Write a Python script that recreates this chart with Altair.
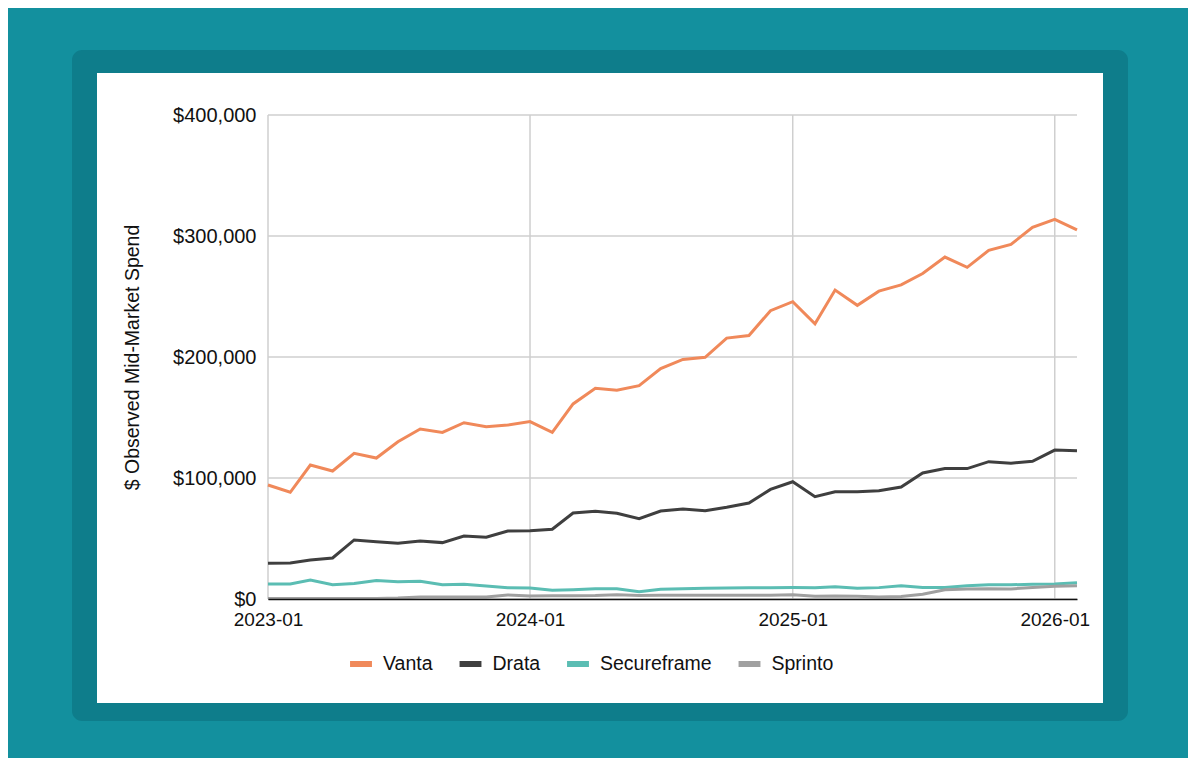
import altair as alt
import pandas as pd

# ---- data (values in $ thousands) ----
months = [f"{y}-{m:02d}-01T00:00:00" for y in (2023, 2024, 2025, 2026) for m in range(1, 13)][:38]
series = ["Vanta", "Drata", "Secureframe", "Sprinto"]
colors = ["#F0895A", "#3F3F3F", "#5BBDB3", "#A0A0A0"]

vanta = [94.2, 88.2, 110.7, 105.8, 120.4, 116.5, 130.0, 140.5, 137.7, 145.7,
         142.4, 143.8, 146.6, 137.7, 161.2, 174.1, 172.5, 176.3, 190.4, 198.0,
         199.7, 215.6, 217.8, 238.3, 245.7, 227.4, 255.3, 242.7, 254.4, 259.6,
         269.0, 282.6, 274.1, 288.1, 293.0, 307.2, 313.8, 305.0]
drata = [29.5, 29.8, 32.2, 33.9, 48.8, 47.4, 46.0, 47.9, 46.6, 52.0,
         51.0, 56.2, 56.5, 57.6, 71.1, 72.5, 70.8, 66.4, 72.7, 74.4,
         73.0, 75.8, 79.3, 90.6, 96.9, 84.5, 88.6, 88.6, 89.5, 92.5,
         104.2, 107.8, 107.8, 113.5, 112.2, 113.8, 123.1, 122.6]
secureframe = [12.4, 12.4, 15.7, 11.8, 12.9, 15.2, 14.3, 14.6, 11.8, 12.1,
               10.7, 9.4, 9.1, 7.2, 7.7, 8.5, 8.5, 6.1, 8.0, 8.5,
               8.8, 9.1, 9.4, 9.4, 9.6, 9.4, 10.2, 8.8, 9.4, 11.0,
               9.6, 9.6, 11.0, 11.8, 11.8, 12.1, 12.4, 13.5]
sprinto = [0.5, 0.5, 0.5, 0.5, 0.5, 0.5, 0.8, 1.6, 1.6, 1.6,
           1.7, 3.3, 2.5, 2.7, 2.7, 2.8, 3.5, 2.8, 3.0, 3.2,
           3.0, 3.0, 3.0, 3.1, 3.6, 2.2, 2.5, 2.2, 1.6, 2.0,
           3.9, 7.7, 8.3, 8.5, 8.3, 9.6, 10.5, 11.0]

y_ticks = [0, 100000, 200000, 300000, 400000]
x_years = [2023, 2024, 2025, 2026]
x_ticks = [f"{y}-01-01T00:00:00" for y in x_years]

rows = []
for name, vals in zip(series, [vanta, drata, secureframe, sprinto]):
    for d, v in zip(months, vals):
        rows.append({"date": d, "company": name, "value": v * 1000})
df = pd.DataFrame(rows)

FONT = "Liberation Sans"
TXT = "#111111"
x_scale = alt.Scale(domain=[alt.DateTime(year=2023, month=1, date=1),
                            alt.DateTime(year=2026, month=2, date=1)])
y_scale = alt.Scale(domain=[0, 400000], nice=False)

x_axis = alt.Axis(values=[alt.DateTime(year=y, month=1, date=1) for y in x_years],
                  format="%Y-%m", grid=False, ticks=False, labelPadding=11,
                  domainColor="#111111", domainWidth=1.5, labelFontSize=19,
                  labelFlush=False, labelOverlap=False, title=None, zindex=1,
                  labelColor=TXT, labelFont=FONT)
y_axis = alt.Axis(values=y_ticks, format="$,.0f", grid=False, ticks=False,
                  domain=False, labelPadding=12, labelFontSize=20,
                  labelColor=TXT, labelFont=FONT,
                  title="$ Observed Mid-Market Spend", titleFontSize=19.5,
                  titleFontWeight="normal", titleFont=FONT, titleColor=TXT,
                  titlePadding=30, zindex=1)

one = pd.DataFrame({"a": [0]})
panel = alt.Chart(one).mark_rect(fill="#0E7D8B", cornerRadius=10).encode(
    x=alt.value(-196), x2=alt.value(860), y=alt.value(-65), y2=alt.value(606))
card = alt.Chart(one).mark_rect(fill="#FFFFFF").encode(
    x=alt.value(-171), x2=alt.value(835), y=alt.value(-42), y2=alt.value(588))

hgrid = alt.Chart(pd.DataFrame({"value": y_ticks})).mark_rule(
    color="#CFCFCF", strokeWidth=1.5).encode(
    y=alt.Y("value:Q", scale=y_scale, axis=y_axis))
vgrid = alt.Chart(pd.DataFrame({"date": x_ticks})).mark_rule(
    color="#CFCFCF", strokeWidth=1.5).encode(
    x=alt.X("date:T", scale=x_scale, axis=x_axis))

lines = alt.Chart(df).mark_line(strokeWidth=3).encode(
    x=alt.X("date:T", scale=x_scale, axis=x_axis),
    y=alt.Y("value:Q", scale=y_scale, axis=y_axis),
    color=alt.Color("company:N", scale=alt.Scale(domain=series, range=colors),
                    legend=alt.Legend(orient="none", legendX=79, legendY=535,
                                      direction="horizontal", title=None,
                                      symbolType="stroke", symbolStrokeWidth=6,
                                      symbolSize=480, labelFontSize=19.5, labelOffset=8,
                                      columnPadding=14.5, labelFont=FONT,
                                      labelColor=TXT)),
)

chart = alt.layer(panel, card, hgrid, vgrid, lines).properties(
    width=809, height=484,
    padding={"left": 260, "top": 107, "right": 111, "bottom": 159},
    autosize=alt.AutoSizeParams(type="none"),
    background="#13909E",
).configure_view(stroke=None)

chart.save("out.html", embed_options={"renderer": "svg", "actions": False})
